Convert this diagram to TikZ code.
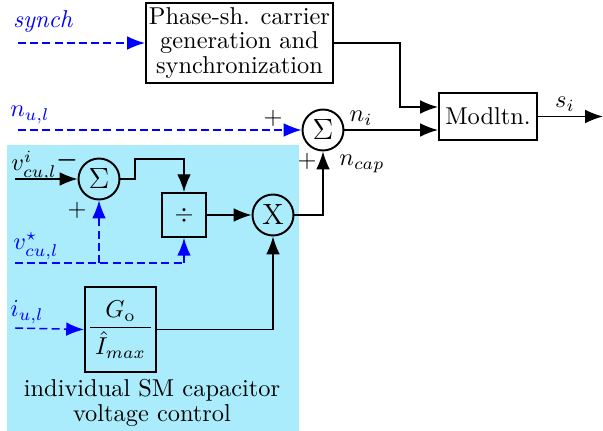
\documentclass[tikz,border=0pt]{standalone}
\usepackage{amsmath,bm}
\usetikzlibrary{arrows.meta,calc}
\definecolor{bgcyan}{RGB}{170,236,252}
\tikzset{
  blk/.style={draw, line width=0.8pt, inner sep=0pt, align=center},
  sumc/.style={circle, draw, line width=0.8pt, minimum size=16.8pt, inner sep=0pt, font=\large},
  arr/.style={-{Latex[length=7.3pt,width=5.6pt]}, line width=0.6pt},
  darr/.style={arr, blue, dash pattern=on 3.3pt off 1.7pt},
  dln/.style={line width=0.6pt, blue, dash pattern=on 3.3pt off 1.7pt},
  lbl/.style={inner sep=0pt},
}
\begin{document}
\begin{tikzpicture}[x=0.41pt,y=-0.41pt]
\useasboundingbox (0,0) rectangle (603,431);
\fill[bgcyan] (7,145) rectangle (299,431);

% top part
\node[blk, minimum width=76.7pt, minimum height=32.8pt, font=\fontsize{10}{10}\selectfont] (phase) at (239.5,43)
  {Phase-sh. carrier\\generation and\\synchronization};
\node[blk, minimum width=40.2pt, minimum height=19.3pt] (mod) at (488,116.5) {Modltn.};
\node[sumc] (sum1) at (323,130) {$\Sigma$};

\coordinate (synchin) at (18,43);
\node[lbl, blue] (synchl) at (43,22) {\textit{synch}};
\draw[darr] (synchin) -- (phase.west);

\coordinate (nulin) at (18,130);
\node[lbl, blue] (null) at (30,115) {$n_{u,l}$};
\draw[darr] (nulin) -- (sum1.west);
\node[lbl] (p1) at (273,118) {$+$};

\draw[arr] (sum1.east) -- (sum1.east -| mod.west);
\node[lbl] (nil) at (361,118) {$n_i$};
\draw[arr] (phase.east) -- (400,43) |- ($(mod.west)+(0,-9.5)$);

\coordinate (out) at (603,116.5);
\draw[arr] (mod.east) -- (out);
\node[lbl] (sil) at (565,104) {$s_i$};

% inner part
\node[sumc] (sum2) at (99,179) {$\Sigma$};
\node[blk, minimum width=18pt, minimum height=18pt] (div) at (184,215) {$\div$};
\node[sumc] (mul) at (273,215) {X};
\node[blk, minimum width=29.1pt, minimum height=34.9pt] (gbox) at (120.5,329.5)
  {$\dfrac{\hspace{2pt}G_{\mathrm{o}}\hspace{2pt}}{\hspace{2pt}\hat{I}_{max}\hspace{2pt}}$};

\draw[arr] (mul.east) -| (sum1.south);
\node[lbl] (p2) at (307,161) {$+$};
\node[lbl] (ncapl) at (362,164) {$n_{cap}$};

\coordinate (vin) at (15,179);
\node[lbl] (vil) at (34,166) {$v^{i}_{cu,l}$};
\draw[arr] (vin) -- (sum2.west);
\node[lbl] (m2) at (67,160) {$\bm{-}$};
\node[lbl] (p3) at (77,210) {$+$};

\draw[arr] (sum2.east) -- (135,179) |- (184,159) -- (div.north);
\draw[arr] (div.east) -- (mul.west);

\coordinate (vs) at (15,263);
\node[lbl, blue] (vsl) at (36,246) {$v^{\star}_{cu,l}$};
\draw[dln] (vs) -- (div.south |- vs);
\draw[darr] (sum2.south |- vs) -- (sum2.south);
\draw[darr] (div.south |- vs) -- (div.south);

\coordinate (iin) at (15,328);
\node[lbl, blue] (il) at (27,312) {$i_{u,l}$};
\draw[darr] (iin) -- (gbox.west);
\draw[arr] (gbox.east) -| (mul.south);

\node[lbl, align=center, font=\fontsize{10}{10.5}\selectfont] (cap) at (152,403)
  {individual SM capacitor\\voltage control};
\end{tikzpicture}
\end{document}
